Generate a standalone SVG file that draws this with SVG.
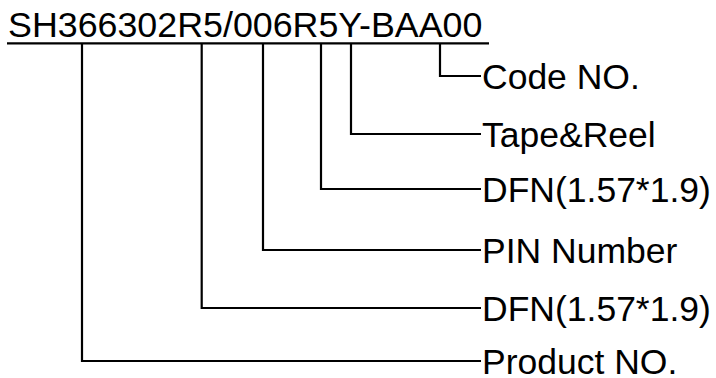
<svg xmlns="http://www.w3.org/2000/svg" width="716" height="378" viewBox="0 0 716 378">
<style>
text{font-family:"Liberation Sans",Arial,sans-serif;font-size:35.5px;fill:#000}
.ln{fill:none;stroke:#000;stroke-width:2.2}
</style>
<rect width="716" height="378" fill="#fff"/>
<g id="title">
<text x="8" y="36.5" style="font-size:35.8px">SH366302R5/006R5Y-BAA00</text>
<line class="ln" x1="7" y1="43.3" x2="489" y2="43.3"/>
</g>
<g id="connectors">
<polyline class="ln" points="440,43 440,76 481,76"/>
<polyline class="ln" points="351,43 351,134 481,134"/>
<polyline class="ln" points="321,43 321,189 481,189"/>
<polyline class="ln" points="263,43 263,250 481,250"/>
<polyline class="ln" points="201.7,43 201.7,308 481,308"/>
<polyline class="ln" points="82,43 82,361 481,361"/>
</g>
<g id="code"><text x="482" y="88.5">Code NO.</text></g>
<g id="tape"><text x="482" y="146.5">Tape&amp;Reel</text></g>
<g id="dfn1"><text x="482" y="201.5">DFN(1.57*1.9)</text></g>
<g id="pin"><text x="482" y="262.5">PIN Number</text></g>
<g id="dfn2"><text x="482" y="320.5">DFN(1.57*1.9)</text></g>
<g id="product"><text x="482" y="373.5">Product NO.</text></g>
</svg>
